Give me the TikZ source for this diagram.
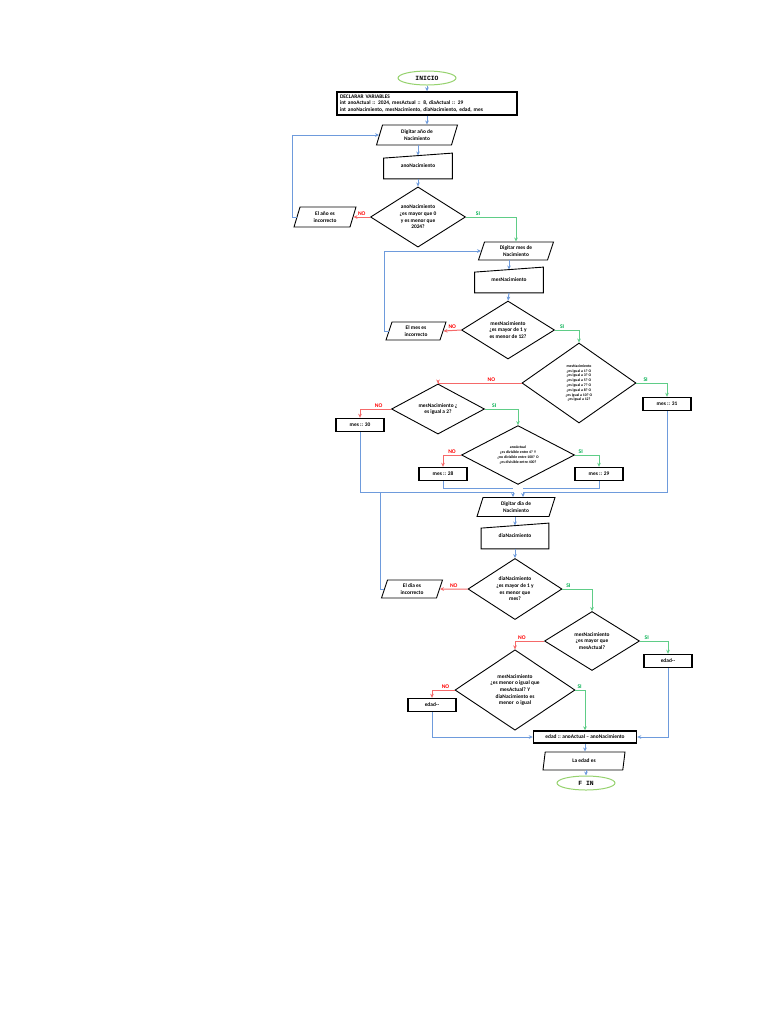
\documentclass[tikz,border=0pt]{standalone}
\usepackage{fontspec}
\setmainfont{Carlito}
\newfontfamily\termfont{Liberation Mono}
\usepackage{tikz}
\usetikzlibrary{arrows.meta,shapes.geometric,positioning,calc}
\definecolor{flowblue}{RGB}{110,155,220}
\definecolor{flowgreen}{RGB}{95,205,135}
\definecolor{flowred}{RGB}{245,105,105}
\definecolor{lblred}{RGB}{255,0,0}
\definecolor{lblgreen}{RGB}{0,176,80}
\definecolor{termgreen}{RGB}{150,210,110}

\tikzset{
  base/.style={font=\fontsize{2.7}{3.3}\selectfont\bfseries, align=center, inner sep=0pt},
  terminal/.style={ellipse, draw=termgreen, line width=0.5pt, inner sep=0pt,
    minimum width=29pt, minimum height=7pt, font=\fontsize{3.2}{3.2}\selectfont\termfont\bfseries},
  process/.style={base, draw, line width=0.7pt, minimum width=24pt, minimum height=6.5pt},
  io/.style={base, trapezium, trapezium left angle=60, trapezium right angle=120,
    trapezium stretches body, draw, line width=0.45pt},
  manual/.style={base, minimum width=34pt, minimum height=12.5pt},
  decision/.style={base, diamond, draw, line width=0.45pt},
  tiny/.style={font=\fontsize{1.9}{2.4}\selectfont\bfseries},
  line/.style={flowblue, line width=0.5pt},
  flow/.style={line, -{Stealth[length=2pt,width=1.8pt]}},
  yes/.style={flowgreen, line width=0.5pt, -{Stealth[length=2pt,width=1.8pt]}},
  no/.style={flowred, line width=0.5pt, -{Stealth[length=2pt,width=1.8pt]}},
  silbl/.style={text=lblgreen, font=\fontsize{2.8}{3}\selectfont\bfseries, inner sep=0.6pt},
  nolbl/.style={text=lblred, font=\fontsize{2.8}{3}\selectfont\bfseries, inner sep=0.6pt}
}

\begin{document}
\begin{tikzpicture}[x=0.5pt,y=-0.5pt]
\fill[white] (0,0) rectangle (768,1024);
\useasboundingbox (0,0) rectangle (768,1024);

% Inicio y declaraciones
\node[terminal] (inicio) at (427,78) {INICIO};
\node[process, minimum width=90pt, minimum height=11.5pt, text width=87pt, align=left] (declarar) at (427,103.5)
  {DECLARAR VARIABLES\\int anoActual :: 2024, mesActual :: 8, diaActual :: 29\\int anoNacimiento, mesNacimiento, diaNacimiento, edad, mes};

% Año
\node[io, minimum width=40.5pt, minimum height=10pt] (digAno) at (417,135) {Digitar año de\\Nacimiento};
\node[manual] (inAno) at (418,166) {anoNacimiento};
\node[decision, minimum width=47.5pt, minimum height=29.5pt] (decAno) at (418,217) {anoNacimiento\\¿es mayor que 0\\y es menor que\\2024?};
\node[io, minimum width=31pt, minimum height=10pt] (errAno) at (325,217) {El año es\\incorrecto};

% Mes
\node[io, minimum width=37.5pt, minimum height=9pt] (digMes) at (516,251) {Digitar mes de\\Nacimiento};
\node[manual] (inMes) at (509,280) {mesNacimiento};
\node[decision, minimum width=46.5pt, minimum height=29pt] (decMes) at (508,330) {mesNacimiento\\¿es mayor de 1 y\\es menor de 12?};
\node[io, minimum width=30pt, minimum height=9pt] (errMes) at (416,331) {El mes es\\incorrecto};

% Dias del mes
\node[decision, minimum width=57pt, minimum height=40pt, tiny] (dec31) at (579,383)
  {mesNacimiento\\¿es igual a 1? O\\¿es igual a 3? O\\¿es igual a 5? O\\¿es igual a 7? O\\¿es igual a 8? O\\¿es igual a 10? O\\¿es igual a 12?};
\node[process] (mes31) at (667,404) {mes :: 31};
\node[decision, minimum width=46.5pt, minimum height=22pt] (decFeb) at (438,409) {mesNacimiento ¿\\es igual a 2?};
\node[process] (mes30) at (360,425) {mes :: 30};
\node[decision, minimum width=56.5pt, minimum height=25pt, tiny] (decBis) at (518,455)
  {anoActual\\¿es divisible entre 4? Y\\¿no divisible entre 100? O\\¿es divisible entre 400?};
\node[process] (mes28) at (443,474) {mes :: 28};
\node[process] (mes29) at (599,474) {mes :: 29};

% Dia
\node[io, minimum width=39pt, minimum height=9.5pt] (digDia) at (516,507) {Digitar dia de\\Nacimiento};
\node[manual, minimum width=33.5pt] (inDia) at (515,536) {diaNacimiento};
\node[decision, minimum width=47pt, minimum height=28pt] (decDia) at (515,589) {diaNacimiento\\¿es mayor de 1 y\\es menor que\\mes?};
\node[io, minimum width=30.5pt, minimum height=9pt] (errDia) at (412,589) {El dia es\\incorrecto};

% Edad
\node[decision, minimum width=47.5pt, minimum height=29.5pt] (decMayor) at (592,641) {mesNacimiento\\¿es mayor que\\mesActual?};
\node[process] (edadA) at (668,661) {edad-{}-};
\node[decision, minimum width=60pt, minimum height=34pt] (decMenor) at (515,690)
  {mesNacimiento\\¿es menor o igual que\\mesActual? Y\\diaNacimiento es\\menor\ \ o igual};
\node[process] (edadB) at (432,705) {edad-{}-};
\node[process, minimum width=51.5pt, minimum height=6pt] (calc) at (585,737) {edad :: anoActual -- anoNacimiento};
\node[io, minimum width=41pt, minimum height=9pt] (salida) at (584,761) {La edad es};
\node[terminal] (fin) at (586,783) {F IN};

% entradas manuales
\foreach \n in {inAno,inMes,inDia}
  \draw[line width=0.45pt] (\n.south west) -- (\n.south east) -- (\n.north east)
    -- ([yshift=-2.5pt]\n.north west) -- cycle;

% union de los meses
\coordinate (jL) at (513,492);
\coordinate (jR) at (523,492);
\coordinate (kL) at (513,488);
\coordinate (kR) at (523,488);

% Conectores
\draw[flow] (inicio.south) -- (declarar.north);
\draw[flow] (declarar.south) -- (declarar.south |- digAno.north);
\draw[flow] (inAno.north |- digAno.south) -- ([yshift=-1.2pt]inAno.north);
\draw[flow] (inAno.south) -- (decAno.north);
\draw[no] (decAno.west) -- node[nolbl, above] (noAno) {NO} (errAno.east);
\draw[flow] (errAno.west) -- ++(-4,0) |- (digAno.west);
\draw[yes] (decAno.east) -| node[silbl, above, pos=0.12] (siAno) {SI} (digMes.north);

\draw[flow] (inMes.north |- digMes.south) -- ([yshift=-1.2pt]inMes.north);
\draw[flow] (inMes.south) -- (decMes.north);
\draw[no] (decMes.west) -- node[nolbl, above] (noMes) {NO} (errMes.east);
\draw[flow] (errMes.west) -- ++(-4,0) |- (digMes.west);
\draw[yes] (decMes.east) -| node[silbl, above, pos=0.15] (siMes) {SI} (dec31.north);

\draw[yes] (dec31.east) -| node[silbl, above, pos=0.15] (si31) {SI} (mes31.north);
\draw[no] (dec31.west) -| node[nolbl, above, pos=0.18] (no31) {NO} (decFeb.north);
\draw[no] (decFeb.west) -| node[nolbl, above, pos=0.2] (noFeb) {NO} (mes30.north);
\draw[yes] (decFeb.east) -| node[silbl, above, pos=0.14] (siFeb) {SI} (decBis.north);
\draw[no] (decBis.west) -| node[nolbl, above, pos=0.25] (noBis) {NO} (mes28.north);
\draw[yes] (decBis.east) -| node[silbl, above, pos=0.12] (siBis) {SI} (mes29.north);

\draw[line] (mes28.south) |- (kL);
\draw[line] (mes29.south) |- (kR);
\draw[flow] (mes30.south) |- (jL) -- (jL |- digDia.north);
\draw[flow] (mes31.south) |- (jR) -- (jR |- digDia.north);

\draw[flow] (inDia.north |- digDia.south) -- ([yshift=-1.2pt]inDia.north);
\draw[flow] (inDia.south) -- (decDia.north);
\draw[no] (decDia.west) -- node[nolbl, above] (noDia) {NO} (errDia.east);
\draw[line] (errDia.west) -- ++(-4,0) |- (jL);
\draw[yes] (decDia.east) -| node[silbl, above, pos=0.1] (siDia) {SI} (decMayor.north);

\draw[yes] (decMayor.east) -| node[silbl, above, pos=0.12] (siMayor) {SI} (edadA.north);
\draw[no] (decMayor.west) -| node[nolbl, above, pos=0.38] (noMayor) {NO} (decMenor.north);
\draw[no] (decMenor.west) -| node[nolbl, above, pos=0.2] (noMenor) {NO} (edadB.north);
\draw[yes] (decMenor.east) -| node[silbl, above, pos=0.22] (siMenor) {SI} (calc.north);
\draw[flow] (edadB.south) |- (calc.west);
\draw[flow] (edadA.south) |- (calc.east);
\draw[flow] (calc.south) -- (calc.south |- salida.north);
\draw[flow] (fin.north |- salida.south) -- (fin.north);
\end{tikzpicture}
\end{document}
